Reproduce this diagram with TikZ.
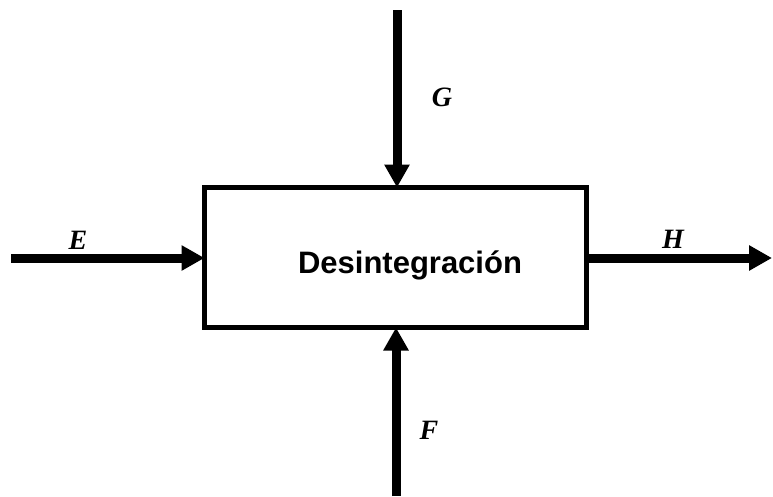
\documentclass[tikz,border=0pt]{standalone}
\usepackage{fontspec}
\setmainfont{Liberation Serif}
\newfontfamily\arialfont{Liberation Sans}
\usetikzlibrary{arrows.meta}
\tikzset{
  flow/.style={line width=9pt, -{Triangle[width=24pt,length=23pt]}},
  lbl/.style={font=\fontsize{28}{32}\selectfont\bfseries\itshape, inner sep=0pt},
  procbox/.style={draw, line width=5pt, minimum width=382pt, minimum height=140pt, inner sep=0pt, outer sep=0pt}
}
\begin{document}
\begin{tikzpicture}[x=1pt,y=-1pt]
\useasboundingbox (0,0) rectangle (773,496);
\node[procbox] (box) at (395.5,257.5) {};
\node[anchor=base, inner sep=0pt, font=\arialfont\fontsize{31}{35}\selectfont\bfseries] (title) at (410,273) {Desintegración};
\coordinate (eS) at (11,258);
\coordinate (hE) at (772,258);
\coordinate (gS) at (397,10);
\coordinate (fS) at (396,496);
\draw[flow] (eS) -- (box.west |- eS);
\draw[flow] (box.east |- hE) -- (hE);
\draw[flow] (gS) -- (gS |- box.north);
\draw[flow] (fS) -- (fS |- box.south);
\node[lbl] (E) at (78,240) {E};
\node[lbl] (H) at (673,239) {H};
\node[lbl] (G) at (442,97) {G};
\node[lbl] (F) at (429,430) {F};
\end{tikzpicture}
\end{document}
